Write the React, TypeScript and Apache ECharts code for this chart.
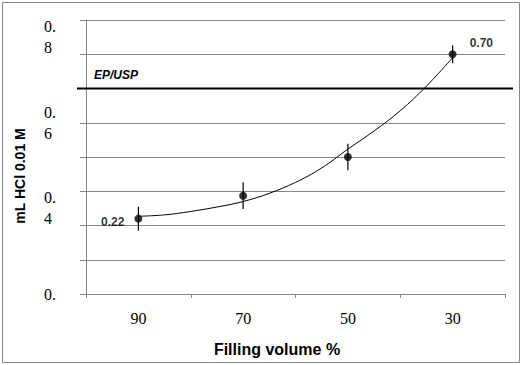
import React, { useEffect, useRef } from "react";
import * as echarts from "echarts";

// Categories (filling volume %, shown reversed: 90 → 30)
const fillLabels = ["90", "70", "50", "30"];
const fillValues = [90, 70, 50, 30];
// Mean mL HCl 0.01 M and error bar half-widths
const meanValues = [0.22, 0.287, 0.4, 0.7];
const errorValues = [0.035, 0.039, 0.039, 0.026];
// Trend curve
const trendX = [90, 85, 80, 75, 70, 65, 60, 55, 50, 45, 40, 35, 30];
const trendY = [0.227, 0.231, 0.241, 0.254, 0.27, 0.294, 0.326, 0.368, 0.423, 0.476, 0.535, 0.607, 0.69];
// Y tick labels as shown (wrapped) at 0, 0.25, 0.5, 0.75
const yTickLabels = ["0.", "0.\n4", "0.\n6", "0.\n8"];
const epUspLimit = 0.6;

const GRAY = "#868686";

export default function App() {
  const ref = useRef<HTMLDivElement>(null);
  useEffect(() => {
    if (!ref.current) return;
    const chart = echarts.init(ref.current, null, { renderer: "svg" });
    const option: any = {
      animation: false,
      backgroundColor: "#ffffff",
      grid: { left: 86, top: 20, right: 18, bottom: 71, containLabel: false },
      xAxis: [
        {
          type: "category",
          data: fillLabels,
          boundaryGap: true,
          axisLine: { show: true, lineStyle: { color: GRAY, width: 1 } },
          axisTick: { show: true, length: 4, lineStyle: { color: GRAY } },
          axisLabel: {
            color: "#000",
            fontFamily: "Liberation Serif",
            fontSize: 16,
            margin: 16,
          },
          splitLine: { show: false },
        },
        {
          type: "value",
          min: 20,
          max: 100,
          inverse: true,
          show: false,
        },
      ],
      yAxis: [
        {
          type: "value",
          min: 0,
          max: 0.8,
          interval: 0.1,
          axisLine: { show: true, lineStyle: { color: GRAY, width: 1 } },
          axisTick: { show: true, length: 6, lineStyle: { color: GRAY } },
          axisLabel: { show: false },
          splitLine: { show: true, lineStyle: { color: GRAY, width: 1 } },
        },
        {
          type: "value",
          position: "left",
          min: 0,
          max: 0.8,
          interval: 0.25,
          axisLine: { show: false },
          axisTick: { show: false },
          splitLine: { show: false },
          axisLabel: {
            show: true,
            align: "left",
            margin: 42,
            color: "#000",
            fontFamily: "Liberation Serif",
            fontSize: 16,
            lineHeight: 21,
            formatter: (v: number) => {
              const i = Math.round(v / 0.25);
              if (Math.abs(v - i * 0.25) > 1e-6) return "";
              return yTickLabels[i] ?? "";
            },
          },
        },
      ],
      series: [
        {
          type: "line",
          xAxisIndex: 1,
          yAxisIndex: 0,
          data: trendX.map((x, i) => [x, trendY[i]]),
          smooth: 0.4,
          showSymbol: false,
          lineStyle: { color: "#000", width: 1 },
          z: 2,
        },
        {
          type: "custom",
          xAxisIndex: 1,
          yAxisIndex: 0,
          data: fillValues.map((x, i) => [x, meanValues[i], errorValues[i]]),
          renderItem: (params: any, api: any) => {
            const x = api.value(0);
            const v = api.value(1);
            const e = api.value(2);
            const hi = api.coord([x, v + e]);
            const lo = api.coord([x, v - e]);
            return {
              type: "line",
              shape: { x1: hi[0], y1: hi[1], x2: lo[0], y2: lo[1] },
              style: { stroke: "#000", lineWidth: 1.2 },
            };
          },
          z: 3,
        },
        {
          type: "scatter",
          xAxisIndex: 1,
          yAxisIndex: 0,
          symbol: "circle",
          symbolSize: 8,
          itemStyle: { color: "#000" },
          data: fillValues.map((x, i) => {
            const item: any = { value: [x, meanValues[i]] };
            const lab = {
              show: true,
              color: "#000",
              fontFamily: "Liberation Sans",
              fontWeight: "bold",
              fontSize: 12,
              formatter: (p: any) => p.value[1].toFixed(2),
            };
            if (i === 0) item.label = { ...lab, position: "left", distance: 10, offset: [0, 3] };
            else if (i === fillValues.length - 1)
              item.label = { ...lab, position: "right", distance: 13, offset: [0, -11] };
            return item;
          }),
          z: 4,
        },
      ],
    };
    chart.setOption(option);
    const yLine = chart.convertToPixel({ yAxisIndex: 0 }, epUspLimit) as number;
    chart.setOption({
      graphic: [
        {
          type: "rect",
          shape: { x: 2.5, y: 2.5, width: 517, height: 360 },
          style: { fill: "none", stroke: GRAY, lineWidth: 1 },
          silent: true,
          z: 0,
        },
        {
          type: "line",
          shape: { x1: 77, y1: yLine, x2: 513, y2: yLine },
          style: { stroke: "#000", lineWidth: 2 },
          z: 10,
        },
        {
          type: "text",
          x: 94,
          y: yLine - 14,
          style: {
            text: "EP/USP",
            fill: "#000",
            font: "italic bold 12px 'Liberation Sans'",
            align: "left",
            verticalAlign: "middle",
          },
          z: 10,
        },
        {
          type: "text",
          x: 20,
          y: 176,
          rotation: Math.PI / 2,
          style: {
            text: "mL HCl 0.01 M",
            fill: "#000",
            font: "bold 14px 'Liberation Sans'",
            align: "center",
            verticalAlign: "middle",
          },
          z: 10,
        },
        {
          type: "text",
          x: 277,
          y: 349,
          style: {
            text: "Filling volume %",
            fill: "#000",
            font: "bold 16px 'Liberation Sans'",
            align: "center",
            verticalAlign: "middle",
          },
          z: 10,
        },
      ],
    });
    return () => chart.dispose();
  }, []);
  return (
    <div
      ref={ref}
      style={{ position: "fixed", left: 0, top: 0, width: 523, height: 365 }}
    />
  );
}
